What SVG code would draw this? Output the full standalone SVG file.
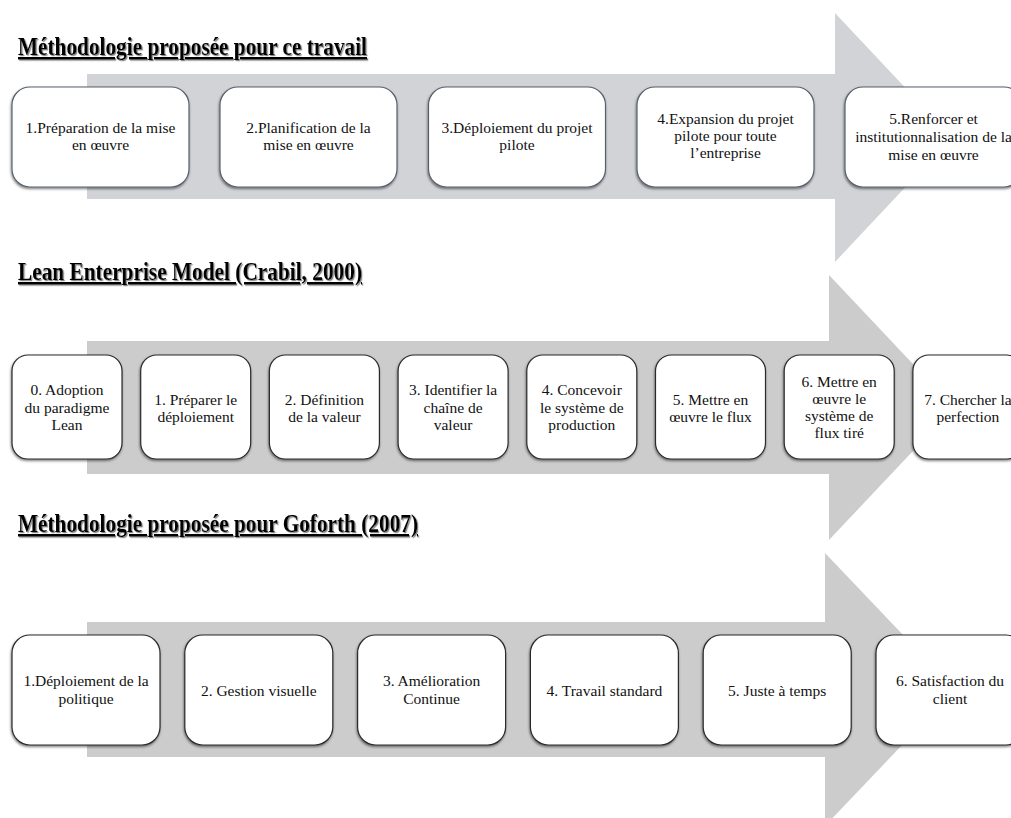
<svg xmlns="http://www.w3.org/2000/svg" width="1011" height="818" viewBox="0 0 1011 818">
<defs>
<filter id="tshadow" x="-5%" y="-30%" width="110%" height="160%">
<feDropShadow dx="1.2" dy="1.2" stdDeviation="0.6" flood-color="#777" flood-opacity="0.9"/>
</filter>
<filter id="bshadow" x="-10%" y="-10%" width="120%" height="125%">
<feDropShadow dx="-0.5" dy="1.5" stdDeviation="0.8" flood-color="#000" flood-opacity="0.5"/>
</filter>
<style>
.title{font-family:"Liberation Serif","Times New Roman",serif;font-weight:bold;font-size:25px;fill:#000;text-decoration:underline;}
.lbl{font-family:"Liberation Serif","Times New Roman",serif;font-size:15.5px;fill:#111;text-anchor:middle;}
.b1{fill:#fff;stroke:#56616d;stroke-width:1.2;filter:url(#bshadow);}
.b2{fill:#fff;stroke:#2a2a2a;stroke-width:1.2;filter:url(#bshadow);}
.a1{fill:#d1d3d7;}
.a2{fill:#cccccc;}
</style>
</defs>
<rect width="1011" height="818" fill="#fff"/>

<g id="flow-arrows">
<polygon class="a1" points="87,74 835,74 835,13 952,137.5 835,262 835,199 87,199"/>
<polygon class="a2" points="87,341 829,341 829,275 954,407.5 829,540 829,474 87,474"/>
<polygon class="a2" points="87,622 825,622 825,553 955,689.5 825,826 825,757 87,757"/>
</g>

<g id="titles">
<text class="title" x="18" y="55" textLength="349" lengthAdjust="spacingAndGlyphs" filter="url(#tshadow)">Méthodologie proposée pour ce travail</text>
<text class="title" x="18" y="280" textLength="344" lengthAdjust="spacingAndGlyphs" filter="url(#tshadow)">Lean Enterprise Model (Crabil, 2000)</text>
<text class="title" x="18" y="532" textLength="400" lengthAdjust="spacingAndGlyphs" filter="url(#tshadow)">Méthodologie proposée pour Goforth (2007)</text>
</g>

<g id="r1n1"><rect class="b1" x="12" y="87" width="177" height="100" rx="18"/>
<text class="lbl" x="100.5" y="133">1.Préparation de la mise</text><text class="lbl" x="100.5" y="150">en œuvre</text></g>
<g id="r1n2"><rect class="b1" x="220" y="87" width="177" height="100" rx="18"/>
<text class="lbl" x="308.5" y="133">2.Planification de la</text><text class="lbl" x="308.5" y="150">mise en œuvre</text></g>
<g id="r1n3"><rect class="b1" x="428.5" y="87" width="177" height="100" rx="18"/>
<text class="lbl" x="517" y="133">3.Déploiement du projet</text><text class="lbl" x="517" y="150">pilote</text></g>
<g id="r1n4"><rect class="b1" x="637" y="87" width="177" height="100" rx="18"/>
<text class="lbl" x="725.5" y="124">4.Expansion du projet</text><text class="lbl" x="725.5" y="141">pilote pour toute</text><text class="lbl" x="725.5" y="158">l’entreprise</text></g>
<g id="r1n5"><rect class="b1" x="845" y="87" width="177" height="100" rx="18"/>
<text class="lbl" x="933.5" y="124">5.Renforcer et</text><text class="lbl" x="933.5" y="142">institutionnalisation de la</text><text class="lbl" x="933.5" y="160">mise en œuvre</text></g>

<g id="r2n0"><rect class="b2" x="12" y="355" width="110" height="104" rx="16"/>
<text class="lbl" x="67" y="395">0. Adoption</text><text class="lbl" x="67" y="413">du paradigme</text><text class="lbl" x="67" y="430">Lean</text></g>
<g id="r2n1"><rect class="b2" x="140.7" y="355" width="110" height="104" rx="16"/>
<text class="lbl" x="195.7" y="405">1. Préparer le</text><text class="lbl" x="195.7" y="422">déploiement</text></g>
<g id="r2n2"><rect class="b2" x="269.4" y="355" width="110" height="104" rx="16"/>
<text class="lbl" x="324.4" y="405">2. Définition</text><text class="lbl" x="324.4" y="422">de la valeur</text></g>
<g id="r2n3"><rect class="b2" x="398.1" y="355" width="110" height="104" rx="16"/>
<text class="lbl" x="453.1" y="395">3. Identifier la</text><text class="lbl" x="453.1" y="413">chaîne de</text><text class="lbl" x="453.1" y="430">valeur</text></g>
<g id="r2n4"><rect class="b2" x="526.8" y="355" width="110" height="104" rx="16"/>
<text class="lbl" x="581.8" y="395">4. Concevoir</text><text class="lbl" x="581.8" y="413">le système de</text><text class="lbl" x="581.8" y="430">production</text></g>
<g id="r2n5"><rect class="b2" x="655.5" y="355" width="110" height="104" rx="16"/>
<text class="lbl" x="710.5" y="405">5. Mettre en</text><text class="lbl" x="710.5" y="422">œuvre le flux</text></g>
<g id="r2n6"><rect class="b2" x="784.2" y="355" width="110" height="104" rx="16"/>
<text class="lbl" x="839.2" y="387">6. Mettre en</text><text class="lbl" x="839.2" y="404">œuvre le</text><text class="lbl" x="839.2" y="421">système de</text><text class="lbl" x="839.2" y="438">flux tiré</text></g>
<g id="r2n7"><rect class="b2" x="912.9" y="355" width="110" height="104" rx="16"/>
<text class="lbl" x="967.9" y="405">7. Chercher la</text><text class="lbl" x="967.9" y="422">perfection</text></g>

<g id="r3n1"><rect class="b2" x="12" y="635" width="148" height="110" rx="18"/>
<text class="lbl" x="86" y="686">1.Déploiement de la</text><text class="lbl" x="86" y="704">politique</text></g>
<g id="r3n2"><rect class="b2" x="184.8" y="635" width="148" height="110" rx="18"/>
<text class="lbl" x="258.8" y="696">2. Gestion visuelle</text></g>
<g id="r3n3"><rect class="b2" x="357.6" y="635" width="148" height="110" rx="18"/>
<text class="lbl" x="431.6" y="686">3. Amélioration</text><text class="lbl" x="431.6" y="704">Continue</text></g>
<g id="r3n4"><rect class="b2" x="530.4" y="635" width="148" height="110" rx="18"/>
<text class="lbl" x="604.4" y="696">4. Travail standard</text></g>
<g id="r3n5"><rect class="b2" x="703.2" y="635" width="148" height="110" rx="18"/>
<text class="lbl" x="777.2" y="696">5. Juste à temps</text></g>
<g id="r3n6"><rect class="b2" x="876" y="635" width="148" height="110" rx="18"/>
<text class="lbl" x="950" y="686">6. Satisfaction du</text><text class="lbl" x="950" y="704">client</text></g>
</svg>
